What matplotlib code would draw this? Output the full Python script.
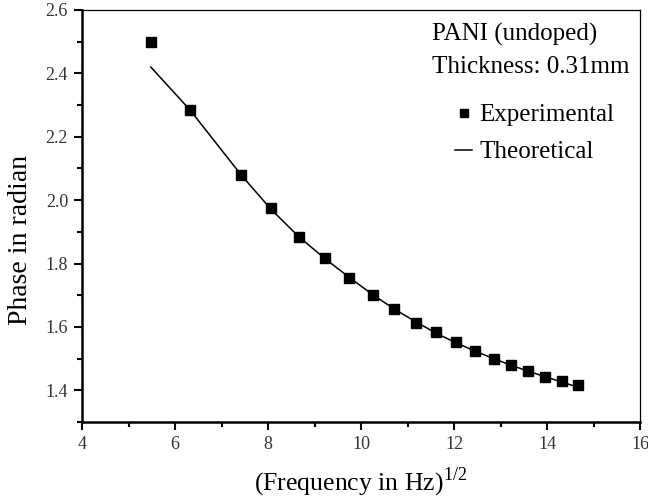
import matplotlib
matplotlib.use("Agg")
import matplotlib.pyplot as plt
from matplotlib.ticker import MultipleLocator

plt.rcParams['font.family'] = ['Liberation Serif', 'DejaVu Serif']
plt.rcParams['mathtext.fontset'] = 'custom'
plt.rcParams['mathtext.rm'] = 'Liberation Serif'

x_exp = [5.48, 6.32, 7.42, 8.06, 8.66, 9.22, 9.75, 10.25, 10.72, 11.18,
         11.62, 12.04, 12.45, 12.85, 13.23, 13.60, 13.96, 14.32, 14.66]
y_exp = [2.50, 2.283, 2.08, 1.975, 1.885, 1.817, 1.755, 1.700, 1.657, 1.612,
         1.583, 1.552, 1.523, 1.500, 1.480, 1.460, 1.442, 1.428, 1.417]
y_theo = [2.42, 2.285, 2.08, 1.972, 1.885, 1.816, 1.756, 1.702, 1.656, 1.616,
          1.580, 1.550, 1.524, 1.500, 1.479, 1.460, 1.443, 1.426, 1.410]

W, H = 648, 501
fig = plt.figure(figsize=(W / 100, H / 100), dpi=100)
ax = fig.add_axes([82 / W, 1 - 422 / H, 558 / W, 412 / H])

ax.plot(x_exp, y_theo, color='black', lw=1.1, label='Theoretical', zorder=2)
ax.plot(x_exp, y_exp, 's', color='black', ms=7, label='Experimental', zorder=3)

ax.set_xlim(4, 16)
ax.set_ylim(1.3, 2.6)
ax.xaxis.set_major_locator(MultipleLocator(2))
ax.xaxis.set_minor_locator(MultipleLocator(1))
ax.yaxis.set_major_locator(MultipleLocator(0.2))
ax.yaxis.set_minor_locator(MultipleLocator(0.1))
ax.yaxis.set_major_formatter(plt.FormatStrFormatter('%.1f'))
ax.tick_params(which='both', direction='out', top=False, right=False,
               labelsize=13, colors='black', width=1.5, labelcolor='#333333')
ax.tick_params(which='major', length=6, pad=4)
ax.tick_params(which='minor', length=3.5)
for s in ['left', 'bottom']:
    ax.spines[s].set_linewidth(1.8)
for s in ['top', 'right']:
    ax.spines[s].set_linewidth(0.9)

ax.set_xlabel(r'(Frequency in Hz)$^{\mathregular{1/2}}$', fontsize=18.5)
ax.xaxis.set_label_coords(0.5, -(466 - 422) / 412)
ax.set_ylabel('Phase in radian', fontsize=20)
ax.yaxis.set_label_coords((33 - 82) / 558, (422 - 240) / 412)

fig.text(432 / W, 1 - 34 / H, 'PANI (undoped)', ha='left', va='center',
         fontsize=18)
fig.text(432 / W, 1 - 67 / H, 'Thickness: 0.31mm', ha='left', va='center',
         fontsize=18)

handles, labels = ax.get_legend_handles_labels()
leg = ax.legend(handles[::-1], labels[::-1], loc='upper left',
                bbox_to_anchor=(455 / W, 1 - 104 / H),
                bbox_transform=fig.transFigure, frameon=False, fontsize=18,
                handlelength=0.68, handletextpad=0.3, labelspacing=0.58,
                borderpad=0, borderaxespad=0, markerscale=0.8)

fig.savefig('out.png', dpi=100)
